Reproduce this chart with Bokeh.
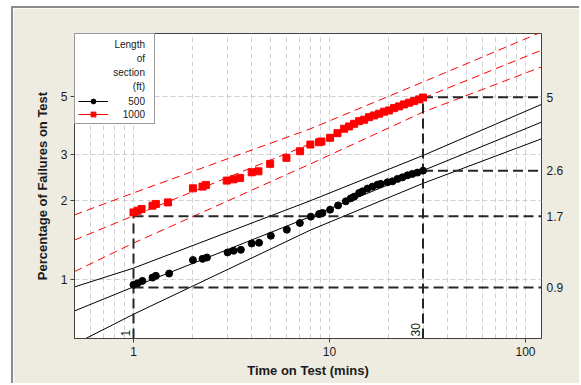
import math
from bokeh.plotting import figure
from bokeh.models import (Range1d, FixedTicker, LogAxis, NumeralTickFormatter,
                          Legend, LegendItem, ColumnDataSource)
from bokeh.embed import file_html
from bokeh.resources import INLINE
from bokeh.core.properties import value

# ---------------- data ----------------
time_500 = [1.00, 1.05, 1.11, 1.25, 1.30, 1.52, 2.01, 2.25, 2.37, 3.02, 3.24, 3.53,
            4.01, 4.37, 5.02, 6.06, 7.06, 8.03, 8.85, 9.21, 10.07, 11.06, 12.11,
            12.84, 13.36, 14.16, 14.74, 15.63, 16.58, 17.58, 18.27, 19.77, 20.96,
            22.23, 23.58, 25.0, 26.5, 28.1, 30.0]
pct_500 = [0.951, 0.965, 0.985, 1.014, 1.030, 1.051, 1.183, 1.196, 1.210, 1.265,
           1.284, 1.295, 1.369, 1.378, 1.466, 1.546, 1.640, 1.734, 1.775, 1.791,
           1.844, 1.915, 1.984, 2.037, 2.068, 2.137, 2.167, 2.220, 2.259, 2.299,
           2.314, 2.347, 2.367, 2.418, 2.452, 2.496, 2.527, 2.556, 2.600]

time_1000 = [1.00, 1.05, 1.10, 1.25, 1.30, 1.50, 2.01, 2.25, 2.34, 2.99, 3.24, 3.50,
             4.01, 4.34, 4.98, 6.03, 7.08, 7.99, 8.85, 9.10, 10.07, 10.98, 11.87,
             12.59, 13.36, 14.16, 15.02, 15.92, 16.89, 17.91, 18.99, 20.14, 21.36,
             22.65, 24.02, 25.47, 27.01, 28.65, 30.0]
pct_1000 = [1.800, 1.827, 1.855, 1.910, 1.939, 1.966, 2.225, 2.259, 2.293, 2.382,
            2.409, 2.439, 2.563, 2.585, 2.761, 2.911, 3.085, 3.273, 3.340, 3.361,
            3.472, 3.617, 3.760, 3.837, 3.929, 4.021, 4.071, 4.165, 4.228, 4.293,
            4.369, 4.419, 4.510, 4.579, 4.660, 4.730, 4.797, 4.870, 4.950]

# fitted lines and confidence bounds
fit_time = [0.5, 1, 8, 30, 120.7]
fit_500 = [0.756, 0.934, 1.734, 2.602, 3.985]
upper_500 = [0.934, 1.102, 1.996, 2.971, 4.66]
lower_500 = [0.564, 0.734, 1.541, 2.325, 3.441]
fit_1000 = [1.411, 1.748, 3.293, 4.925, 7.51]
upper_1000 = [1.760, 2.137, 3.76, 5.674, 8.81]
lower_1000 = [1.069, 1.374, 2.76, 4.353, 6.48]

# percentile reference lines
ref_time = [1, 30]
ref_500 = [0.93, 2.6]
ref_1000 = [1.74, 4.96]
ref_time_labels = ["1", "30"]
ref_pct_labels = {0.93: "0.9", 2.6: "2.6", 1.74: "1.7", 4.96: "5"}

legend_title = ["Length", "of", "section", "(ft)"]
series_labels = ["500", "1000"]
# approx. px widths at 10px, used to right-align the legend texts
legend_texts = legend_title + series_labels
legend_text_widths = [30.6, 8.3, 31.7, 12.2, 16.7, 22.2]
legend_text_rows = [11, 25, 39, 53, 68, 81]   # row centres, px below the frame top

x_ticks = [1, 10, 100]
y_ticks = [1, 2, 3, 5]
x_grid = [0.6, 0.7, 0.8, 0.9, 1, 2, 3, 4, 5, 6, 7, 8, 9, 10,
          20, 30, 40, 50, 60, 70, 80, 90, 100]

x_lo, x_hi = 0.5, 120.7
y_lo, y_hi = 0.593, 8.70

FONT = "Liberation Sans"
TXT = "#1a1a1a"
BG = "#EEEBE1"
FRAME_H = 305

p = figure(width=568, height=377, x_axis_type="log", y_axis_type="log",
           x_range=Range1d(x_lo, x_hi), y_range=Range1d(y_lo, y_hi),
           output_backend="svg", toolbar_location=None,
           min_border_left=61, min_border_right=40, min_border_top=25,
           min_border_bottom=47)
p.styles = {"margin-left": "11px", "margin-top": "6px",
            "border-left": "2px solid #8c8c8c", "border-top": "2px solid #8c8c8c"}
p.border_fill_color = BG
p.background_fill_color = "white"
p.outline_line_color = "#404040"
p.outline_line_width = 1

# grids
p.xgrid.ticker = FixedTicker(ticks=x_grid)
p.ygrid.ticker = FixedTicker(ticks=y_ticks)
for g in (p.xgrid, p.ygrid):
    g.grid_line_color = "#cfcfcf"
    g.grid_line_dash = "5 3"
    g.grid_line_width = 1

# axes
for ax in (p.xaxis, p.yaxis):
    ax.axis_line_color = "#404040"
    ax.major_tick_line_color = "#404040"
    ax.major_tick_out = 4
    ax.major_tick_in = 0
    ax.minor_tick_line_color = None
    ax.major_label_text_font = FONT
    ax.major_label_text_font_size = "12px"
    ax.major_label_text_color = TXT
    ax.axis_label_text_font = FONT
    ax.axis_label_text_font_size = "13px"
    ax.axis_label_text_font_style = "bold"
    ax.axis_label_text_color = TXT

p.xaxis.ticker = FixedTicker(ticks=x_ticks)
p.xaxis.formatter = NumeralTickFormatter(format="0")
p.xaxis.axis_label = "Time on Test (mins)"
p.xaxis.major_label_standoff = 4
p.xaxis.axis_label_standoff = 4

p.yaxis.ticker = FixedTicker(ticks=y_ticks)
p.yaxis.formatter = NumeralTickFormatter(format="0")
p.yaxis.axis_label = "Percentage of Failures on Test"
p.yaxis.major_label_standoff = 3
p.yaxis.axis_label_standoff = 8

right = LogAxis(ticker=FixedTicker(ticks=list(ref_pct_labels.keys())),
                major_label_overrides=ref_pct_labels)
right.axis_line_color = None
right.major_tick_line_color = None
right.minor_tick_line_color = None
right.major_tick_out = 0
right.major_tick_in = 0
right.major_label_standoff = 5
right.major_label_text_font = FONT
right.major_label_text_font_size = "12px"
right.major_label_text_color = TXT
p.add_layout(right, "right")

# confidence bounds and fits
p.line(fit_time, upper_500, line_color="black", line_width=1)
p.line(fit_time, lower_500, line_color="black", line_width=1)
r_fit500 = p.line(fit_time, fit_500, line_color="black", line_width=1)
p.line(fit_time, upper_1000, line_color="red", line_width=1, line_dash="8 5")
p.line(fit_time, lower_1000, line_color="red", line_width=1, line_dash="8 5")
p.line(fit_time, fit_1000, line_color="red", line_width=1, line_dash="8 5")

# reference (percentile) lines
vx = ref_time
p.segment(x0=vx, y0=[y_lo] * len(vx), x1=vx, y1=ref_1000,
          line_color="#262626", line_width=2, line_dash="10 5")
hx0 = ref_time + ref_time
hy = ref_500 + ref_1000
p.segment(x0=hx0, y0=hy, x1=[x_hi] * len(hx0), y1=hy,
          line_color="#262626", line_width=2, line_dash="10 5")

lab_src = ColumnDataSource(dict(x=ref_time, y=[y_lo] * len(ref_time), t=ref_time_labels))
p.text(x="x", y="y", text="t", source=lab_src, angle=math.pi / 2,
       text_align="left", text_baseline="bottom", x_offset=-3, y_offset=-2,
       text_font=value(FONT), text_font_size="12px", text_color=TXT)

# points
r_pts500 = p.scatter(time_500, pct_500, marker="circle", size=7,
                     fill_color="black", line_color="black")
r_pts1000 = p.scatter(time_1000, pct_1000, marker="square", size=7,
                      fill_color="red", line_color="red")

# solid key line for the 1000 legend entry (a single point draws nothing on the plot)
key1000 = p.line(x=fit_time[:1], y=fit_1000[:1], line_color="red", line_width=1)
# invisible key for text-only legend rows
key_blank = p.line(x=fit_time[:1], y=fit_500[:1], line_alpha=0)

# legend box with glyphs only (its texts are drawn by the right-aligned rows below)
legend = Legend(items=[LegendItem(label=" ", renderers=[r_fit500, r_pts500]),
                       LegendItem(label=" ", renderers=[key1000, r_pts1000])],
                location="top_left", margin=0, padding=3, spacing=1,
                title="\n".join(legend_title), title_standoff=14,
                glyph_width=30, glyph_height=12, label_height=12,
                label_standoff=18, label_width=25)
legend.title_text_font = FONT
legend.title_text_font_size = "10px"
legend.title_text_alpha = 0
legend.label_text_font = FONT
legend.label_text_font_size = "10px"
legend.label_text_alpha = 0
legend.border_line_color = "#333333"
legend.border_line_width = 1
legend.background_fill_color = "white"
legend.background_fill_alpha = 1
p.add_layout(legend)

# right-aligned legend texts: one transparent one-row legend per text
for t, w, row_center in zip(legend_texts, legend_text_widths, legend_text_rows):
    tl = Legend(items=[LegendItem(label=t, renderers=[key_blank])],
                location=(71 - w, FRAME_H - row_center - 6.5), margin=0, padding=0,
                glyph_width=0, glyph_height=13, label_height=13, label_standoff=0)
    tl.label_text_font = FONT
    tl.label_text_font_size = "10px"
    tl.label_text_color = TXT
    tl.border_line_color = None
    tl.background_fill_alpha = 0
    p.add_layout(tl)

open("out.html", "w").write(file_html(p, INLINE))
